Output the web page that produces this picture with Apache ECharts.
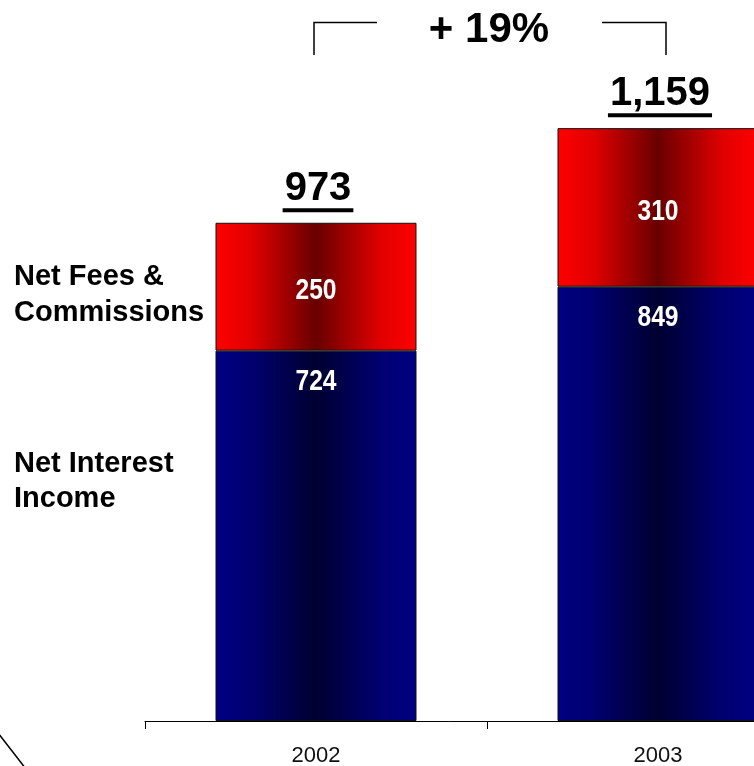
<!DOCTYPE html>
<html>
<head>
<meta charset="utf-8">
<style>
  html, body { margin: 0; padding: 0; background: #fff; }
  #chart { width: 754px; height: 766px; }
</style>
<script src="https://cdn.jsdelivr.net/npm/echarts@6/dist/echarts.min.js"></script>
</head>
<body>
<div id="chart"></div>
<script>
// Revenue breakdown by year
const years = ['2002', '2003'];
const netInterestIncome = [724, 849];
const netFeesCommissions = [250, 310];
const totals = [973, 1159];
const growthLabel = '+ 19%';

const BOLD_FONT = '"Liberation Sans", Arial, sans-serif';

// Horizontal "dark in the middle" fills for the stacked bars
function centreShade(edge, mid, core) {
  return new echarts.graphic.LinearGradient(0, 0, 1, 0, [
    { offset: 0, color: edge },
    { offset: 0.18, color: mid },
    { offset: 0.5, color: core },
    { offset: 0.82, color: mid },
    { offset: 1, color: edge }
  ]);
}
const blueFill = centreShade('#000084', '#000070', '#000030');
const redFill = centreShade('#ff0000', '#e00000', '#680000');

// Width of a string for the underline under each total
const measureCtx = document.createElement('canvas').getContext('2d');
function textWidth(str, font) {
  measureCtx.font = font;
  return measureCtx.measureText(str).width;
}

// Segment label entries: [category index, segment base, segment value, anchor]
const segmentLabels = [];
years.forEach((y, i) => {
  segmentLabels.push([i, 0, netInterestIncome[i], 'top']);
  segmentLabels.push([i, netInterestIncome[i], netFeesCommissions[i], 'centre']);
});

const chart = echarts.init(document.getElementById('chart'), null, { renderer: 'canvas' });

chart.setOption({
  backgroundColor: '#ffffff',
  animation: false,
  grid: { left: 145, width: 684, top: 56, bottom: 45, containLabel: false, outerBoundsMode: 'none' },
  xAxis: {
    type: 'category',
    data: years,
    boundaryGap: true,
    axisLine: { lineStyle: { color: '#000', width: 1 } },
    axisTick: { show: true, length: 8, lineStyle: { color: '#000', width: 1 } },
    axisLabel: {
      color: '#111',
      fontFamily: BOLD_FONT,
      fontSize: 22,
      lineHeight: 22,
      margin: 24
    }
  },
  yAxis: {
    type: 'value',
    min: 0,
    max: 1300,
    show: false,
    splitLine: { show: false }
  },
  series: [
    {
      name: 'Net Interest Income',
      type: 'bar',
      stack: 'revenue',
      barWidth: 201,
      data: netInterestIncome,
      itemStyle: { color: blueFill, borderColor: '#111', borderWidth: 1 }
    },
    {
      name: 'Net Fees & Commissions',
      type: 'bar',
      stack: 'revenue',
      barWidth: 201,
      data: netFeesCommissions,
      itemStyle: { color: redFill, borderColor: '#111', borderWidth: 1 }
    },
    {
      // White condensed value labels inside each segment
      name: 'Segment values',
      type: 'custom',
      data: segmentLabels,
      z: 6,
      renderItem(params, api) {
        const i = api.value(0);
        const base = api.value(1);
        const val = api.value(2);
        const anchor = segmentLabels[params.dataIndex][3];
        const top = api.coord([i, base + val]);
        const bottom = api.coord([i, base]);
        const cy = anchor === 'top' ? top[1] + 31 : (top[1] + bottom[1]) / 2 + 4;
        return {
          type: 'text',
          x: top[0],
          y: cy,
          scaleX: 0.82,
          style: {
            text: String(val),
            font: 'bold 30px ' + BOLD_FONT,
            fill: '#ffffff',
            align: 'center',
            verticalAlign: 'middle'
          }
        };
      }
    },
    {
      // Underlined totals above each stack
      name: 'Total',
      type: 'custom',
      data: years.map((y, i) => [i, totals[i]]),
      z: 5,
      renderItem(params, api) {
        const p = api.coord([api.value(0), api.value(1)]);
        const txt = totals[params.dataIndex].toLocaleString('en-US');
        const font = 'bold 40px ' + BOLD_FONT;
        const w = textWidth(txt, font);
        const cx = p[0] + 2;
        return {
          type: 'group',
          children: [
            {
              type: 'text',
              x: cx,
              y: p[1] - 34,
              style: {
                text: txt,
                font: font,
                fill: '#000',
                align: 'center',
                verticalAlign: 'middle'
              }
            },
            {
              type: 'rect',
              shape: { x: cx - w / 2 - 2, y: p[1] - 15, width: w + 4, height: 4 },
              style: { fill: '#000' }
            }
          ]
        };
      }
    }
  ],
  graphic: [
    // Growth bracket
    {
      type: 'polyline',
      shape: { points: [[314, 55], [314, 22.5], [377, 22.5]] },
      style: { stroke: '#000', lineWidth: 1.5, fill: null }
    },
    {
      type: 'polyline',
      shape: { points: [[602, 22.5], [666, 22.5], [666, 55]] },
      style: { stroke: '#000', lineWidth: 1.5, fill: null }
    },
    {
      type: 'text',
      x: 489,
      y: 30,
      style: {
        text: growthLabel,
        font: 'bold 42px ' + BOLD_FONT,
        fill: '#000',
        align: 'center',
        verticalAlign: 'middle'
      }
    },
    // Row captions
    {
      type: 'text',
      x: 14,
      y: 259,
      style: {
        text: 'Net Fees &\nCommissions',
        font: 'bold 29px ' + BOLD_FONT,
        lineHeight: 36,
        fill: '#000',
        align: 'left',
        verticalAlign: 'top'
      }
    },
    {
      type: 'text',
      x: 14,
      y: 446,
      style: {
        text: 'Net Interest\nIncome',
        font: 'bold 29px ' + BOLD_FONT,
        lineHeight: 35,
        fill: '#000',
        align: 'left',
        verticalAlign: 'top'
      }
    },
    // Decorative curve in the lower-left corner
    {
      type: 'bezierCurve',
      shape: { x1: -2, y1: 733, cpx1: 8, cpy1: 746, x2: 26, y2: 769 },
      style: { stroke: '#000', lineWidth: 1.5, fill: null }
    }
  ]
});
</script>
</body>
</html>
